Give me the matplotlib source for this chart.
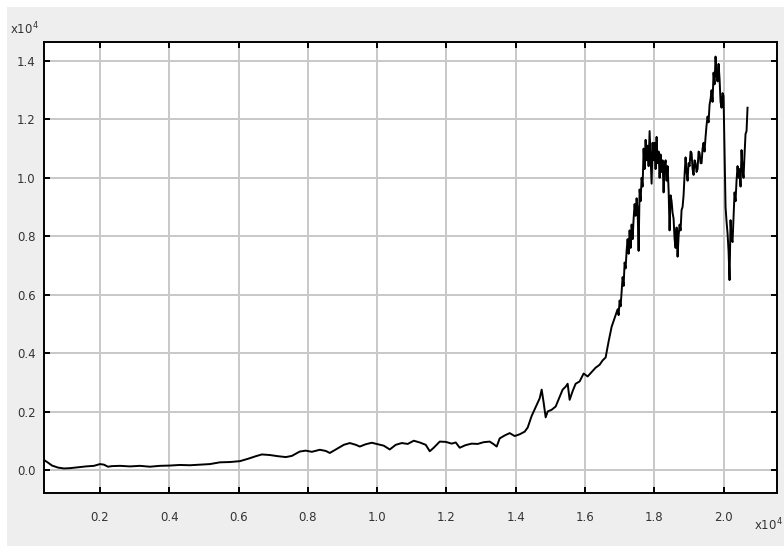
import matplotlib
matplotlib.use("Agg")
import matplotlib.pyplot as plt
from matplotlib.patches import Rectangle

# pixel-read samples (horizontal pixel position) and values
x_px = [44, 48, 52, 58, 64, 70, 78, 86, 94, 100, 104, 108, 112, 120, 130, 140, 150, 160, 170, 180,
        190, 200, 210, 220, 230, 240, 248, 256, 262, 270, 278, 286, 292, 300, 306, 312, 320, 326, 330, 336,
        344, 350, 356, 360, 366, 372, 378, 384, 390, 396, 402, 408, 414, 420, 426, 430, 434, 440, 446, 452,
        456, 460, 466, 472, 478, 484, 490, 494, 497, 500, 505, 510, 515, 520, 525, 528, 532, 536, 540, 542,
        544, 546, 548, 552, 556, 560, 563, 566, 568, 570, 573, 576, 580, 584, 588, 592, 596, 600, 603, 606,
        609, 612, 615,
        618, 619, 620, 621, 622, 623, 624, 625, 626, 627, 628, 629, 630, 631, 632, 633, 634, 635, 636, 637,
        638, 639, 640, 641, 642, 643, 644, 645, 646, 647, 648, 649, 650, 651, 652, 653, 654, 655, 656, 657,
        658, 659, 660, 661, 662, 663, 664, 665, 666, 667, 668, 669, 670, 671, 672, 673, 674, 675, 676, 677,
        678, 679, 680, 681, 682, 683, 684, 685, 686, 687, 688, 689, 690, 691, 692, 693, 694, 695, 696, 697,
        698, 699, 700, 701, 702, 703, 704, 705, 706, 707, 708, 709, 710, 711, 712, 713, 714, 715, 716, 717,
        718, 719, 720, 721, 722, 723, 724, 725, 726, 727, 728, 729, 730, 731, 732, 733, 734, 735, 736, 737,
        738, 739, 740, 741, 742, 743, 744, 745, 746, 747, 748]
values = [340, 250, 150, 80, 50, 60, 90, 120, 140, 200, 180, 110, 130, 140, 120, 140, 110, 140, 150, 170,
          160, 180, 200, 260, 270, 300, 380, 470, 530, 510, 470, 440, 480, 630, 660, 620, 690, 650, 580, 700,
          860, 920, 860, 800, 880, 930, 880, 830, 700, 860, 920, 890, 1000, 940, 860, 640, 760, 970, 960, 900,
          940, 760, 850, 900, 890, 950, 970, 880, 800, 1080, 1180, 1260, 1160, 1220, 1310, 1450, 1850, 2150, 2450, 2750,
          2300, 1800, 2000, 2060, 2170, 2500, 2750, 2850, 2950, 2400, 2700, 2950, 3030, 3300, 3200, 3350, 3500, 3600, 3750, 3850,
          4400, 4900, 5200,
          5500, 5300, 5800, 5600, 6100, 6600, 6300, 7100, 6900, 7500, 7900, 7400, 8200, 7600, 8400, 7900, 8600, 9100, 8700, 9300,
          8900, 7500, 9600, 9200, 10000, 9700, 11000, 10300, 11300, 10600, 11100, 10400, 11600, 10700, 9800, 11200, 10600, 11200, 10300, 11400,
          10500, 10900, 10000, 10800, 10200, 10600, 9500, 10400, 10600, 9900, 10400, 9600, 8200, 9400, 9200, 8800, 8600, 7900, 7600, 8300,
          7300, 8000, 8400, 8200, 8900, 9000, 9400, 10100, 10700, 10200, 9900, 10500, 10400, 10900, 10850, 10300, 10100, 10600, 10500, 10200,
          10300, 10900, 10850, 10500, 10500, 11000, 11200, 10900, 11400, 11800, 12100, 11900, 12500, 12700, 13000, 12600, 13600, 13200, 14150, 13500,
          13300, 13900, 13400, 12600, 12400, 12900, 12800, 10950, 9000, 8500, 8100, 7500, 6500, 8550, 7900, 7800, 8700, 9500, 9200, 9900,
          10400, 10000, 10300, 9700, 10950, 10300, 10000, 10800, 11500, 11600, 12400]
steps = [2000 + (p - 100) * 28.84 for p in x_px]

x_ticks = [2000, 4000, 6000, 8000, 10000, 12000, 14000, 16000, 18000, 20000]
x_labels = ["0.2", "0.4", "0.6", "0.8", "1.0", "1.2", "1.4", "1.6", "1.8", "2.0"]
y_ticks = [0, 2000, 4000, 6000, 8000, 10000, 12000, 14000]
y_labels = ["0.0", "0.2", "0.4", "0.6", "0.8", "1.0", "1.2", "1.4"]

W, H = 784, 546
fig = plt.figure(figsize=(W / 100, H / 100), dpi=100, facecolor="white")
fig.patches.append(Rectangle((7 / W, 0), 1 - 7 / W, 1 - 7 / H, transform=fig.transFigure,
                             facecolor="#EEEEEE", edgecolor="none", zorder=-10))

ax = fig.add_axes([44 / W, 1 - 493 / H, (776.7 - 44) / W, (493 - 41.7) / H])
ax.set_facecolor("white")
ax.plot(steps, values, color="black", linewidth=1.4, zorder=3)
ax.set_xlim(385, 21530)
ax.set_ylim(-790, 14660)
ax.set_xticks(x_ticks)
ax.set_xticklabels(x_labels)
ax.set_yticks(y_ticks)
ax.set_yticklabels(y_labels)
ax.grid(True, color="#C8C8C8", linewidth=1.4, zorder=0)
ax.set_axisbelow(True)
ax.tick_params(direction="in", length=4, width=1.4, color="black",
               top=True, right=True, labelsize=8.5, labelcolor="#333333")
ax.tick_params(axis="x", pad=13)
ax.tick_params(axis="y", pad=6)
for s in ax.spines.values():
    s.set_linewidth(1.4)
    s.set_color("black")

fig.text(10 / W, 1 - 29 / H, r"x10$^{4}$", fontsize=8.5, color="#333333", ha="left", va="center")
fig.text(783 / W, 1 - 525 / H, r"x10$^{4}$", fontsize=8.5, color="#333333", ha="right", va="center")

fig.savefig("out.png", dpi=100, facecolor=fig.get_facecolor())
